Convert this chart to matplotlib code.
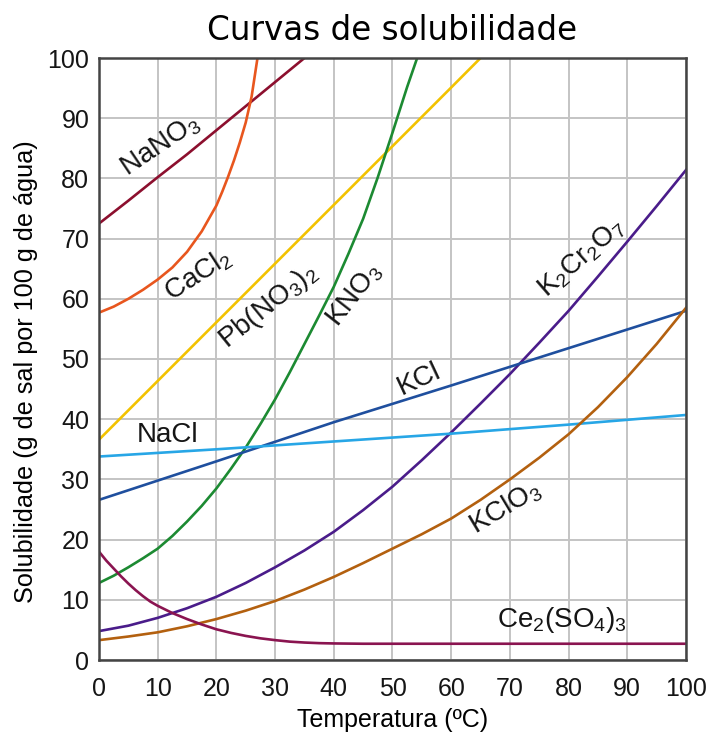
import matplotlib
matplotlib.use("Agg")
import matplotlib.pyplot as plt

plt.rcParams['font.family'] = ['Liberation Sans', 'DejaVu Sans']
plt.rcParams['mathtext.default'] = 'regular'

# solubility readings (g / 100 g water) vs temperature (C)
nano3_t = [0, 5, 10, 15, 20, 25, 30, 35]
nano3_s = [72.5, 76.3, 80.2, 84.0, 88.0, 92.0, 96.0, 100.0]

cacl2_t = [0, 2.5, 5, 7.5, 10, 12.5, 15, 17.5, 20, 21, 22, 23, 24, 25, 26, 27]
cacl2_s = [57.7, 58.7, 60.0, 61.5, 63.2, 65.2, 67.8, 71.2, 75.5, 77.8, 80.3, 83.0,
           86.0, 89.3, 93.6, 100.0]

pbno3_t = [0, 20, 40, 60, 65]
pbno3_s = [36.6, 56.1, 75.6, 95.1, 100.0]

kno3_t = [0, 2.5, 5, 7.5, 10, 12.5, 15, 17.5, 20, 22.5, 25, 27.5, 30, 32.5, 35,
          37.5, 40, 42.5, 45, 47.5, 50, 52.5, 54.2]
kno3_s = [12.8, 14.0, 15.4, 16.9, 18.5, 20.6, 23.0, 25.6, 28.5, 31.8, 35.3, 39.2,
          43.3, 47.8, 52.5, 57.2, 62.0, 67.5, 73.3, 80.2, 87.6, 95.2, 100.0]

k2cr2o7_t = [0, 5, 10, 15, 20, 25, 30, 35, 40, 45, 50, 55, 60, 65, 70, 75, 80,
             85, 90, 95, 100]
k2cr2o7_s = [4.8, 5.7, 7.0, 8.6, 10.5, 12.8, 15.4, 18.2, 21.3, 24.9, 28.8, 33.2,
             37.8, 42.6, 47.5, 52.7, 58.0, 63.7, 69.5, 75.4, 81.4]

kcl_t = [0, 20, 40, 60, 80, 100]
kcl_s = [26.6, 33.0, 39.5, 45.6, 51.8, 58.0]

nacl_t = [0, 20, 40, 60, 80, 100]
nacl_s = [33.8, 35.0, 36.3, 37.6, 39.1, 40.7]

kclo3_t = [0, 5, 10, 15, 20, 25, 30, 35, 40, 45, 50, 55, 60, 65, 70, 75, 80, 85,
           90, 95, 100]
kclo3_s = [3.3, 3.9, 4.6, 5.6, 6.8, 8.2, 9.8, 11.7, 13.8, 16.1, 18.5, 20.9, 23.5,
           26.6, 30.0, 33.6, 37.5, 42.0, 47.0, 52.5, 58.5]

ce_t = [0, 1.25, 2.5, 3.75, 5, 6.25, 7.5, 8.75, 10, 12.5, 15, 17.5, 20, 22.5, 25,
        27.5, 30, 32.5, 35, 37.5, 40, 45, 100]
ce_s = [18.0, 16.5, 15.2, 13.9, 12.7, 11.6, 10.6, 9.7, 9.0, 7.8, 6.8, 5.9, 5.1,
        4.5, 4.0, 3.6, 3.3, 3.05, 2.9, 2.8, 2.75, 2.7, 2.7]

series = [
    (nano3_t, nano3_s, '#8c0f2e'),
    (cacl2_t, cacl2_s, '#e8561e'),
    (pbno3_t, pbno3_s, '#f2c200'),
    (kno3_t, kno3_s, '#1c8a32'),
    (k2cr2o7_t, k2cr2o7_s, '#4a1c8a'),
    (kcl_t, kcl_s, '#1f4f9e'),
    (nacl_t, nacl_s, '#27a6e6'),
    (kclo3_t, kclo3_s, '#b3600f'),
    (ce_t, ce_s, '#8a1450'),
]

# label text, position (data), rotation
labels = [
    ('NaNO$_3$', 10.4, 85.5, 34),
    ('CaCl$_2$', 16.9, 64.0, 33),
    ('Pb(NO$_3$)$_2$', 28.8, 58.8, 39),
    ('KNO$_3$', 43.6, 60.7, 52),
    ('K$_2$Cr$_2$O$_7$', 82.3, 66.7, 41),
    ('KCl', 54.5, 46.7, 25),
    ('NaCl', 11.6, 37.3, 0),
    ('KClO$_3$', 69.3, 25.3, 31),
    ('Ce$_2$(SO$_4$)$_3$', 78.9, 6.6, 0),
]

fig = plt.figure(figsize=(7.13, 7.35), dpi=100)
ax = fig.add_axes([99 / 713, 75 / 735, 587 / 713, 602 / 735])

for t, s, c in series:
    ax.plot(t, s, color=c, lw=1.9, solid_joinstyle='round')

for txt, x, y, rot in labels:
    ax.text(x, y, txt, fontsize=20, rotation=rot, rotation_mode='anchor',
            ha='center', va='center', color='#151515')

ax.set_xlim(0, 100)
ax.set_ylim(0, 100)
ax.set_xticks(range(0, 101, 10))
ax.set_yticks(range(0, 101, 10))
ax.grid(True, color='#c4c4c4', lw=1.4)
ax.set_axisbelow(True)
ax.tick_params(length=0, labelsize=18, colors='#151515')
ax.tick_params(axis='x', pad=12)
ax.tick_params(axis='y', pad=7)
for sp in ax.spines.values():
    sp.set_color('#444444')
    sp.set_linewidth(1.8)

ax.set_xlabel('Temperatura (ºC)', fontsize=18, labelpad=5)
ax.set_ylabel('Solubilidade (g de sal por 100 g de água)', fontsize=18.2)
ax.yaxis.set_label_coords(-0.104, 0.479)
ax.set_title('Curvas de solubilidade', fontsize=23.5, family='DejaVu Sans', pad=13)

fig.savefig('out.png', dpi=100)
